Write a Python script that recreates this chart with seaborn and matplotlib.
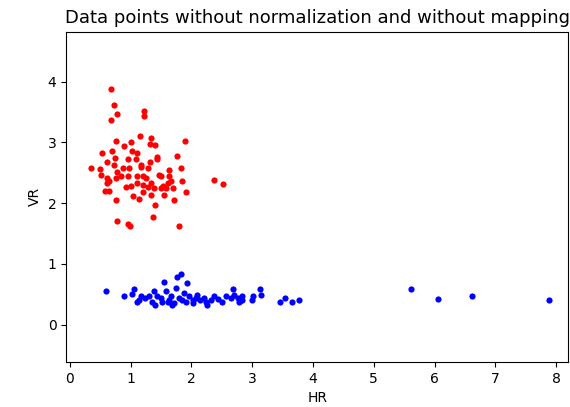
import matplotlib
matplotlib.use("Agg")
import matplotlib.pyplot as plt
import seaborn as sns
import pandas as pd

# class 1 (red): HR / VR values
red_hr = [0.67, 0.72, 0.77, 0.67, 1.22, 1.22, 0.76, 1.00, 0.89, 1.15,
          1.34, 1.32, 1.41, 1.90, 0.53, 0.70, 0.74, 1.03, 1.11, 0.95,
          1.09, 1.17, 1.32, 1.44, 1.44, 1.76, 0.61, 0.35, 0.50, 0.52,
          0.62, 0.65, 0.62, 0.78, 0.76, 0.84, 0.98, 0.95, 1.17, 1.29,
          1.11, 1.20, 1.11, 1.20, 1.28, 1.33, 1.47, 1.50, 1.63, 1.63,
          1.66, 1.61, 1.54, 1.50, 1.58, 1.69, 1.83, 1.84, 1.92, 2.38,
          2.52, 0.58, 0.64, 0.92, 1.00, 1.33, 1.04, 1.14, 0.76, 1.40,
          1.55, 1.72, 1.37, 0.77, 0.95, 0.99, 1.79, 0.73, 0.87, 1.25,
          1.39, 1.20]
red_vr = [3.87, 3.62, 3.47, 3.37, 3.52, 3.44, 3.02, 3.00, 2.94, 3.10,
          3.07, 2.98, 2.96, 3.02, 2.82, 2.85, 2.74, 2.85, 2.83, 2.72,
          2.72, 2.63, 2.67, 2.76, 2.72, 2.77, 2.67, 2.58, 2.56, 2.47,
          2.41, 2.36, 2.33, 2.52, 2.41, 2.44, 2.58, 2.44, 2.60, 2.58,
          2.45, 2.44, 2.33, 2.30, 2.27, 2.33, 2.47, 2.44, 2.55, 2.44,
          2.36, 2.33, 2.29, 2.25, 2.25, 2.25, 2.58, 2.36, 2.18, 2.38,
          2.32, 2.20, 2.20, 2.27, 2.29, 2.14, 2.11, 2.07, 2.06, 1.97,
          2.14, 2.06, 1.78, 1.70, 1.66, 1.63, 1.63, 2.63, 2.58, 2.41,
          2.25, 2.19]

# class 2 (blue)
blue_hr = [0.60, 0.89, 1.02, 1.05, 1.17, 1.14, 1.11, 1.31, 1.39, 1.36,
           1.41, 1.50, 1.55, 1.58, 1.61, 1.66, 1.74, 1.77, 1.83, 1.72,
           1.80, 1.88, 1.93, 1.96, 1.91, 2.02, 2.10, 2.15, 2.24, 2.26,
           2.37, 2.43, 2.51, 2.57, 2.69, 2.70, 2.76, 2.81, 2.84, 3.00,
           3.02, 3.13, 3.14, 3.46, 3.54, 3.66, 3.77, 1.23, 1.44, 1.52,
           1.63, 1.68, 1.85, 2.02, 2.07, 2.21, 2.32, 2.65, 2.79, 2.84,
           5.62, 6.05, 6.62, 7.88]
blue_vr = [0.56, 0.47, 0.50, 0.59, 0.48, 0.41, 0.38, 0.47, 0.55, 0.38,
           0.33, 0.44, 0.71, 0.55, 0.38, 0.47, 0.60, 0.78, 0.84, 0.36,
           0.44, 0.52, 0.69, 0.47, 0.38, 0.41, 0.49, 0.41, 0.38, 0.33,
           0.47, 0.42, 0.38, 0.47, 0.59, 0.49, 0.44, 0.41, 0.47, 0.41,
           0.48, 0.59, 0.49, 0.38, 0.44, 0.38, 0.41, 0.44, 0.47, 0.37,
           0.41, 0.33, 0.41, 0.36, 0.44, 0.44, 0.41, 0.44, 0.38, 0.40,
           0.58, 0.43, 0.48, 0.41]

df_red = pd.DataFrame({"HR": red_hr, "VR": red_vr})
df_blue = pd.DataFrame({"HR": blue_hr, "VR": blue_vr})

fig = plt.figure(figsize=(5.7, 4.07), dpi=100)
ax = fig.add_axes([0.116, 0.111, 0.881, 0.811])

sns.scatterplot(data=df_red, x="HR", y="VR", color="red", s=20, linewidth=0, ax=ax)
sns.scatterplot(data=df_blue, x="HR", y="VR", color="blue", s=20, linewidth=0, ax=ax)

ax.set_xlim(-0.06, 8.2)
ax.set_ylim(-0.61, 4.82)
ax.set_yticks([0, 1, 2, 3, 4])
ax.set_title("Data points without normalization and without mapping", fontsize=13)
ax.set_xlabel("HR")
ax.set_ylabel("VR")

fig.savefig("out.png", dpi=100)
plt.close(fig)
